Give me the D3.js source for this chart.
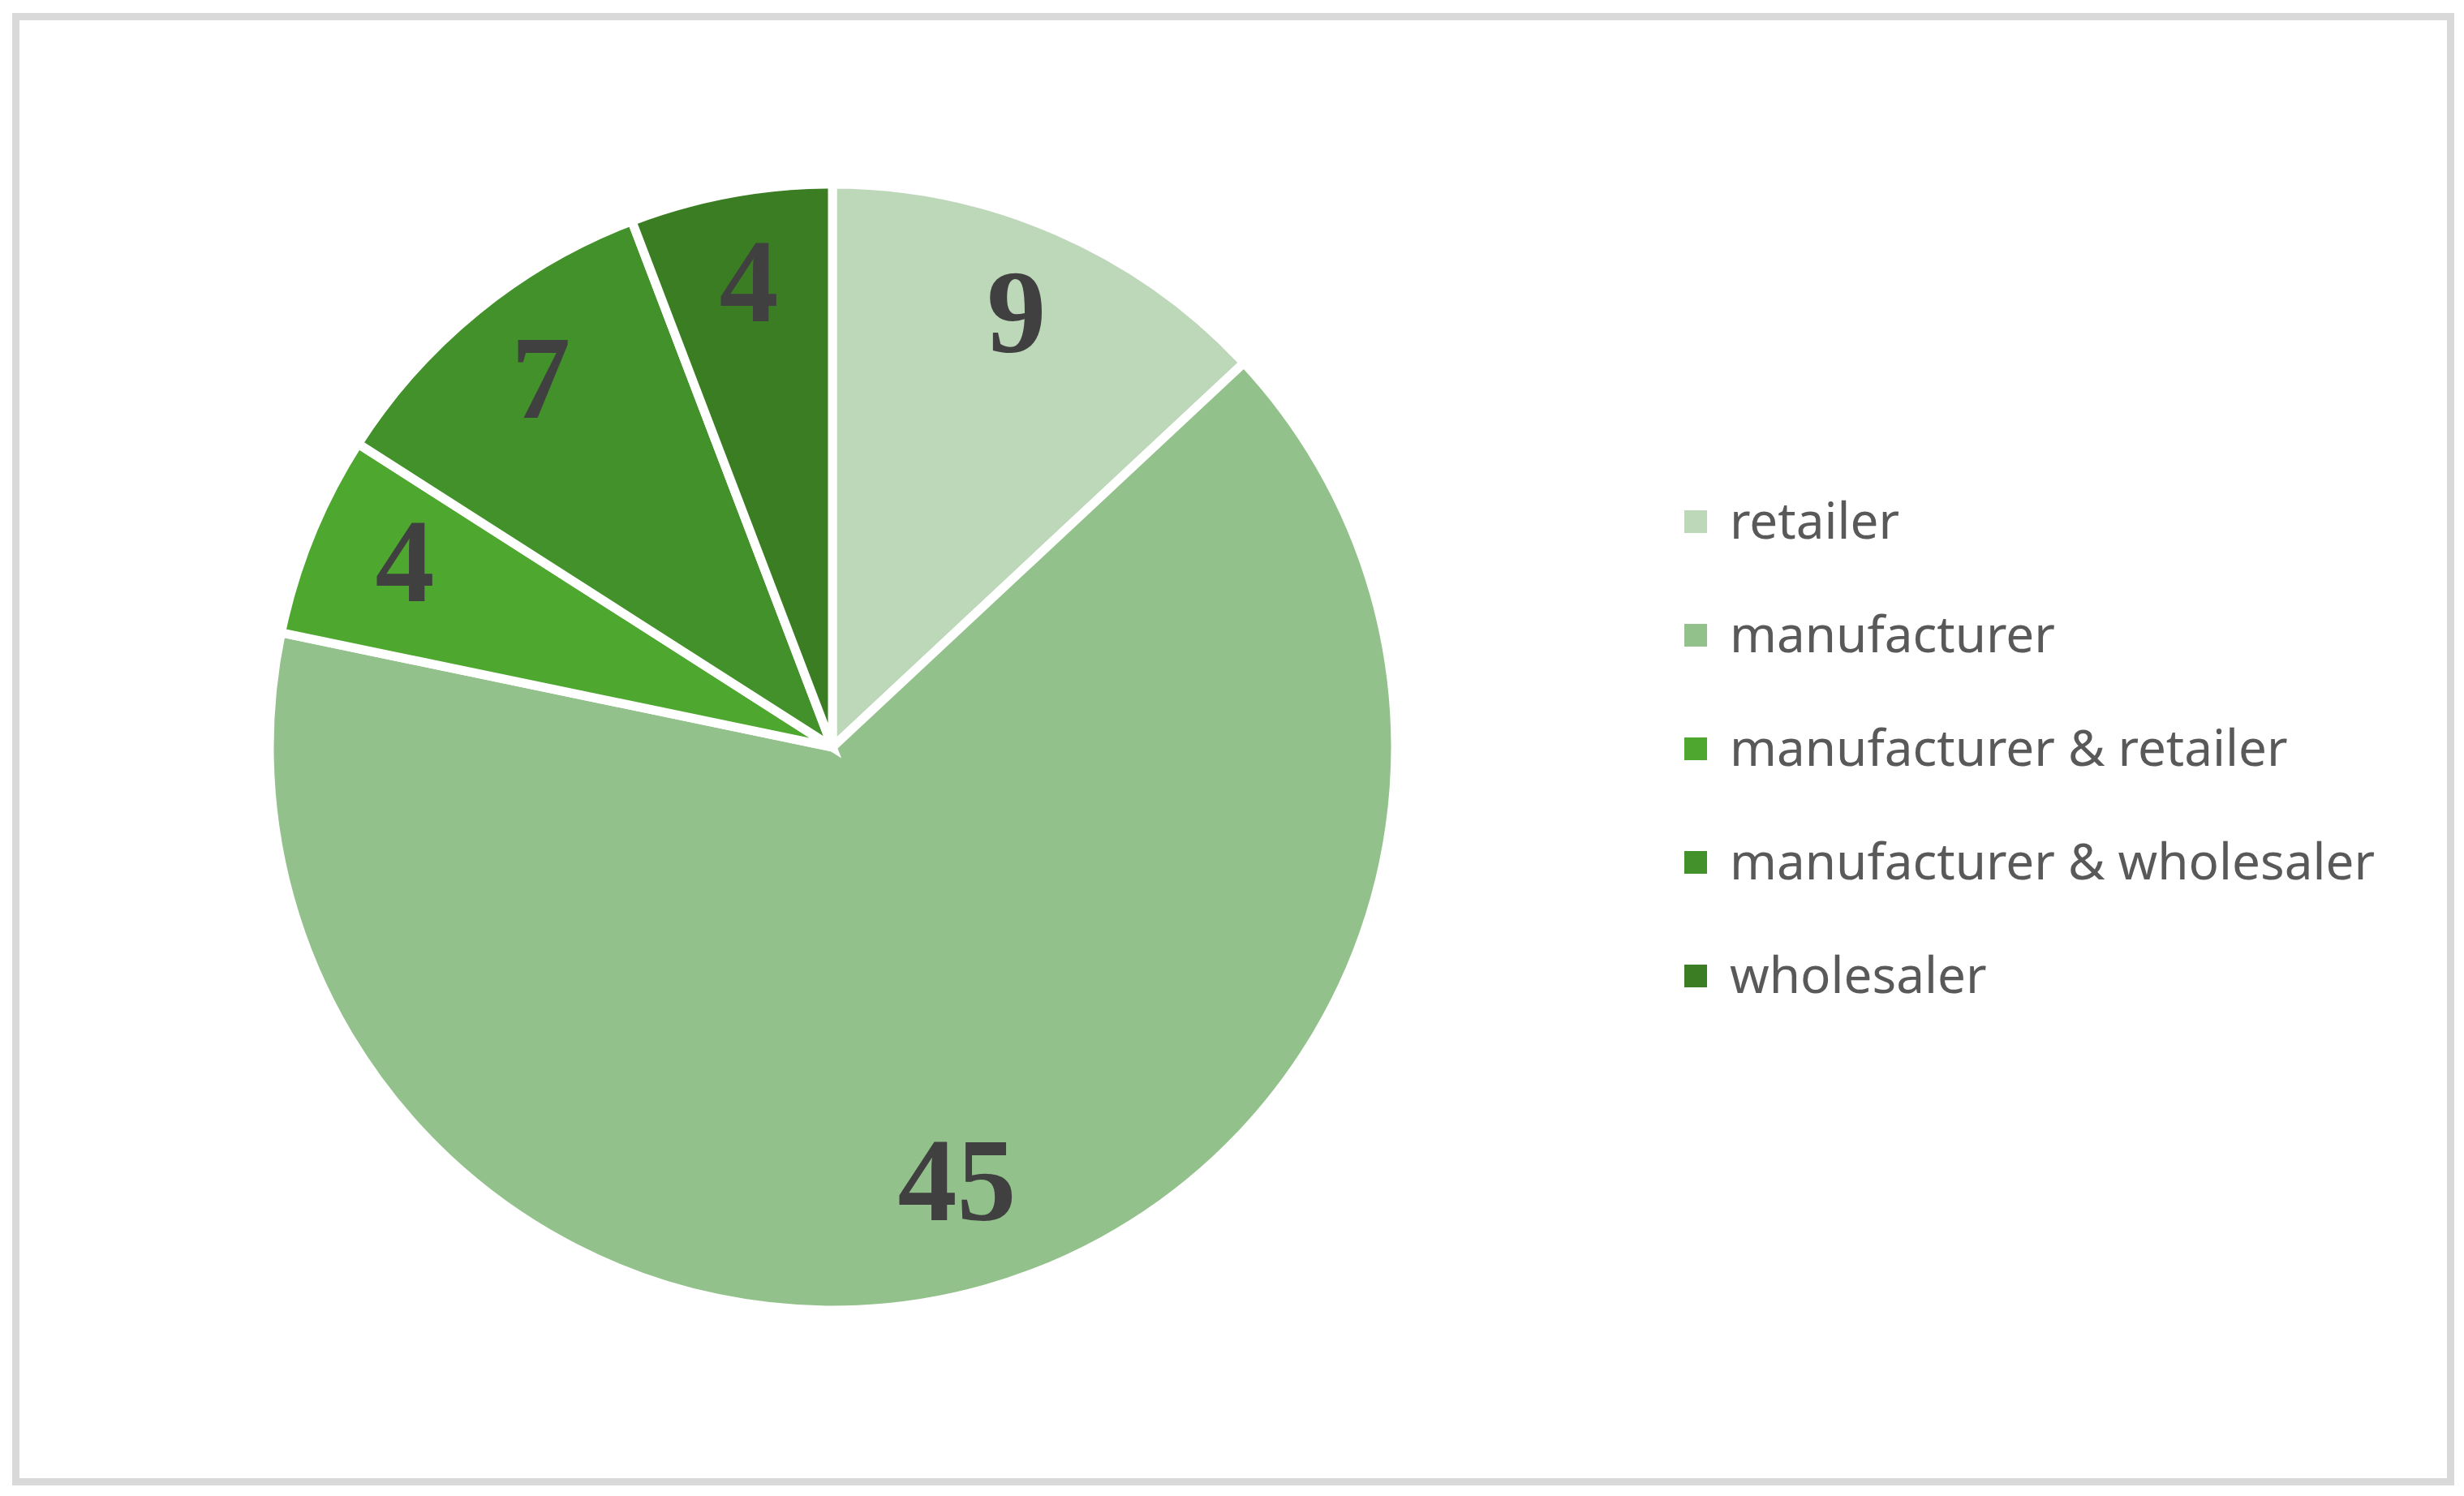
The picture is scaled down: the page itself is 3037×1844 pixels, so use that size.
<!DOCTYPE html>
<html>
<head>
<meta charset="utf-8">
<script src="https://cdn.jsdelivr.net/npm/d3@7"></script>
<style>
  body { margin: 0; background: #fff; }
</style>
</head>
<body>
<div id="chart"></div>
<script>
var chart_width  = 3037;
var chart_height = 1844;

// data
var categories = ['retailer', 'manufacturer', 'manufacturer & retailer', 'manufacturer & wholesaler', 'wholesaler'];
var values     = [9, 45, 4, 7, 4];
var colors     = ['#bdd7b9', '#93c18b', '#4ea72e', '#43912a', '#3a7d22'];

var cx = 1026, cy = 921, radius = 694;

var color = d3.scaleOrdinal()
    .domain(categories)
    .range(colors);

var svg = d3.select('#chart')
    .append('svg')
    .attr('width', chart_width)
    .attr('height', chart_height);

// chart area border
svg.append('rect')
  .attr('x', 19.5)
  .attr('y', 20.5)
  .attr('width', 3001)
  .attr('height', 1806)
  .style('fill', '#fff')
  .style('stroke', '#d9d9d9')
  .style('stroke-width', 9);

var pie = d3.pie()
    .sort(null)
    .value(function(d){ return d.value; });

var arc = d3.arc()
    .innerRadius(0)
    .outerRadius(radius);

var labelArc = d3.arc()
    .innerRadius(radius * 0.82)
    .outerRadius(radius * 0.82);

var rows = categories.map(function(c, i){ return {name: c, value: values[i]}; });

var g = svg.append('g')
  .attr('transform', 'translate(' + cx + ',' + cy + ')');

g.selectAll('path')
  .data(pie(rows))
  .enter()
  .append('path')
  .attr('d', arc)
  .style('fill', function(d){ return color(d.data.name); })
  .style('stroke', '#fff')
  .style('stroke-width', 11)
  .style('stroke-linejoin', 'miter');

g.selectAll('text.lbl')
  .data(pie(rows))
  .enter()
  .append('text')
  .attr('class', 'lbl')
  .attr('transform', function(d){ return 'translate(' + labelArc.centroid(d) + ')'; })
  .attr('text-anchor', 'middle')
  .attr('dy', '0.24em')
  .style('font-family', '"Liberation Serif", "Times New Roman", serif')
  .style('font-weight', 'bold')
  .style('font-size', '146px')
  .style('fill', '#404040')
  .text(function(d){ return d.data.value; });

// legend
var legendY = d3.scalePoint()
    .domain(categories)
    .range([643, 1203]);

var legend = svg.append('g')
  .selectAll('g')
  .data(categories)
  .enter()
  .append('g')
  .attr('transform', function(d){ return 'translate(2076,' + legendY(d) + ')'; });

legend.append('rect')
  .attr('x', 0)
  .attr('y', -14)
  .attr('width', 28)
  .attr('height', 28)
  .style('fill', function(d){ return color(d); });

legend.append('text')
  .attr('x', 56)
  .attr('y', 21)
  .style('font-family', '"Noto Sans", sans-serif')
  .style('font-size', '62px')
  .style('fill', '#595959')
  .text(function(d){ return d; });
</script>
</body>
</html>
